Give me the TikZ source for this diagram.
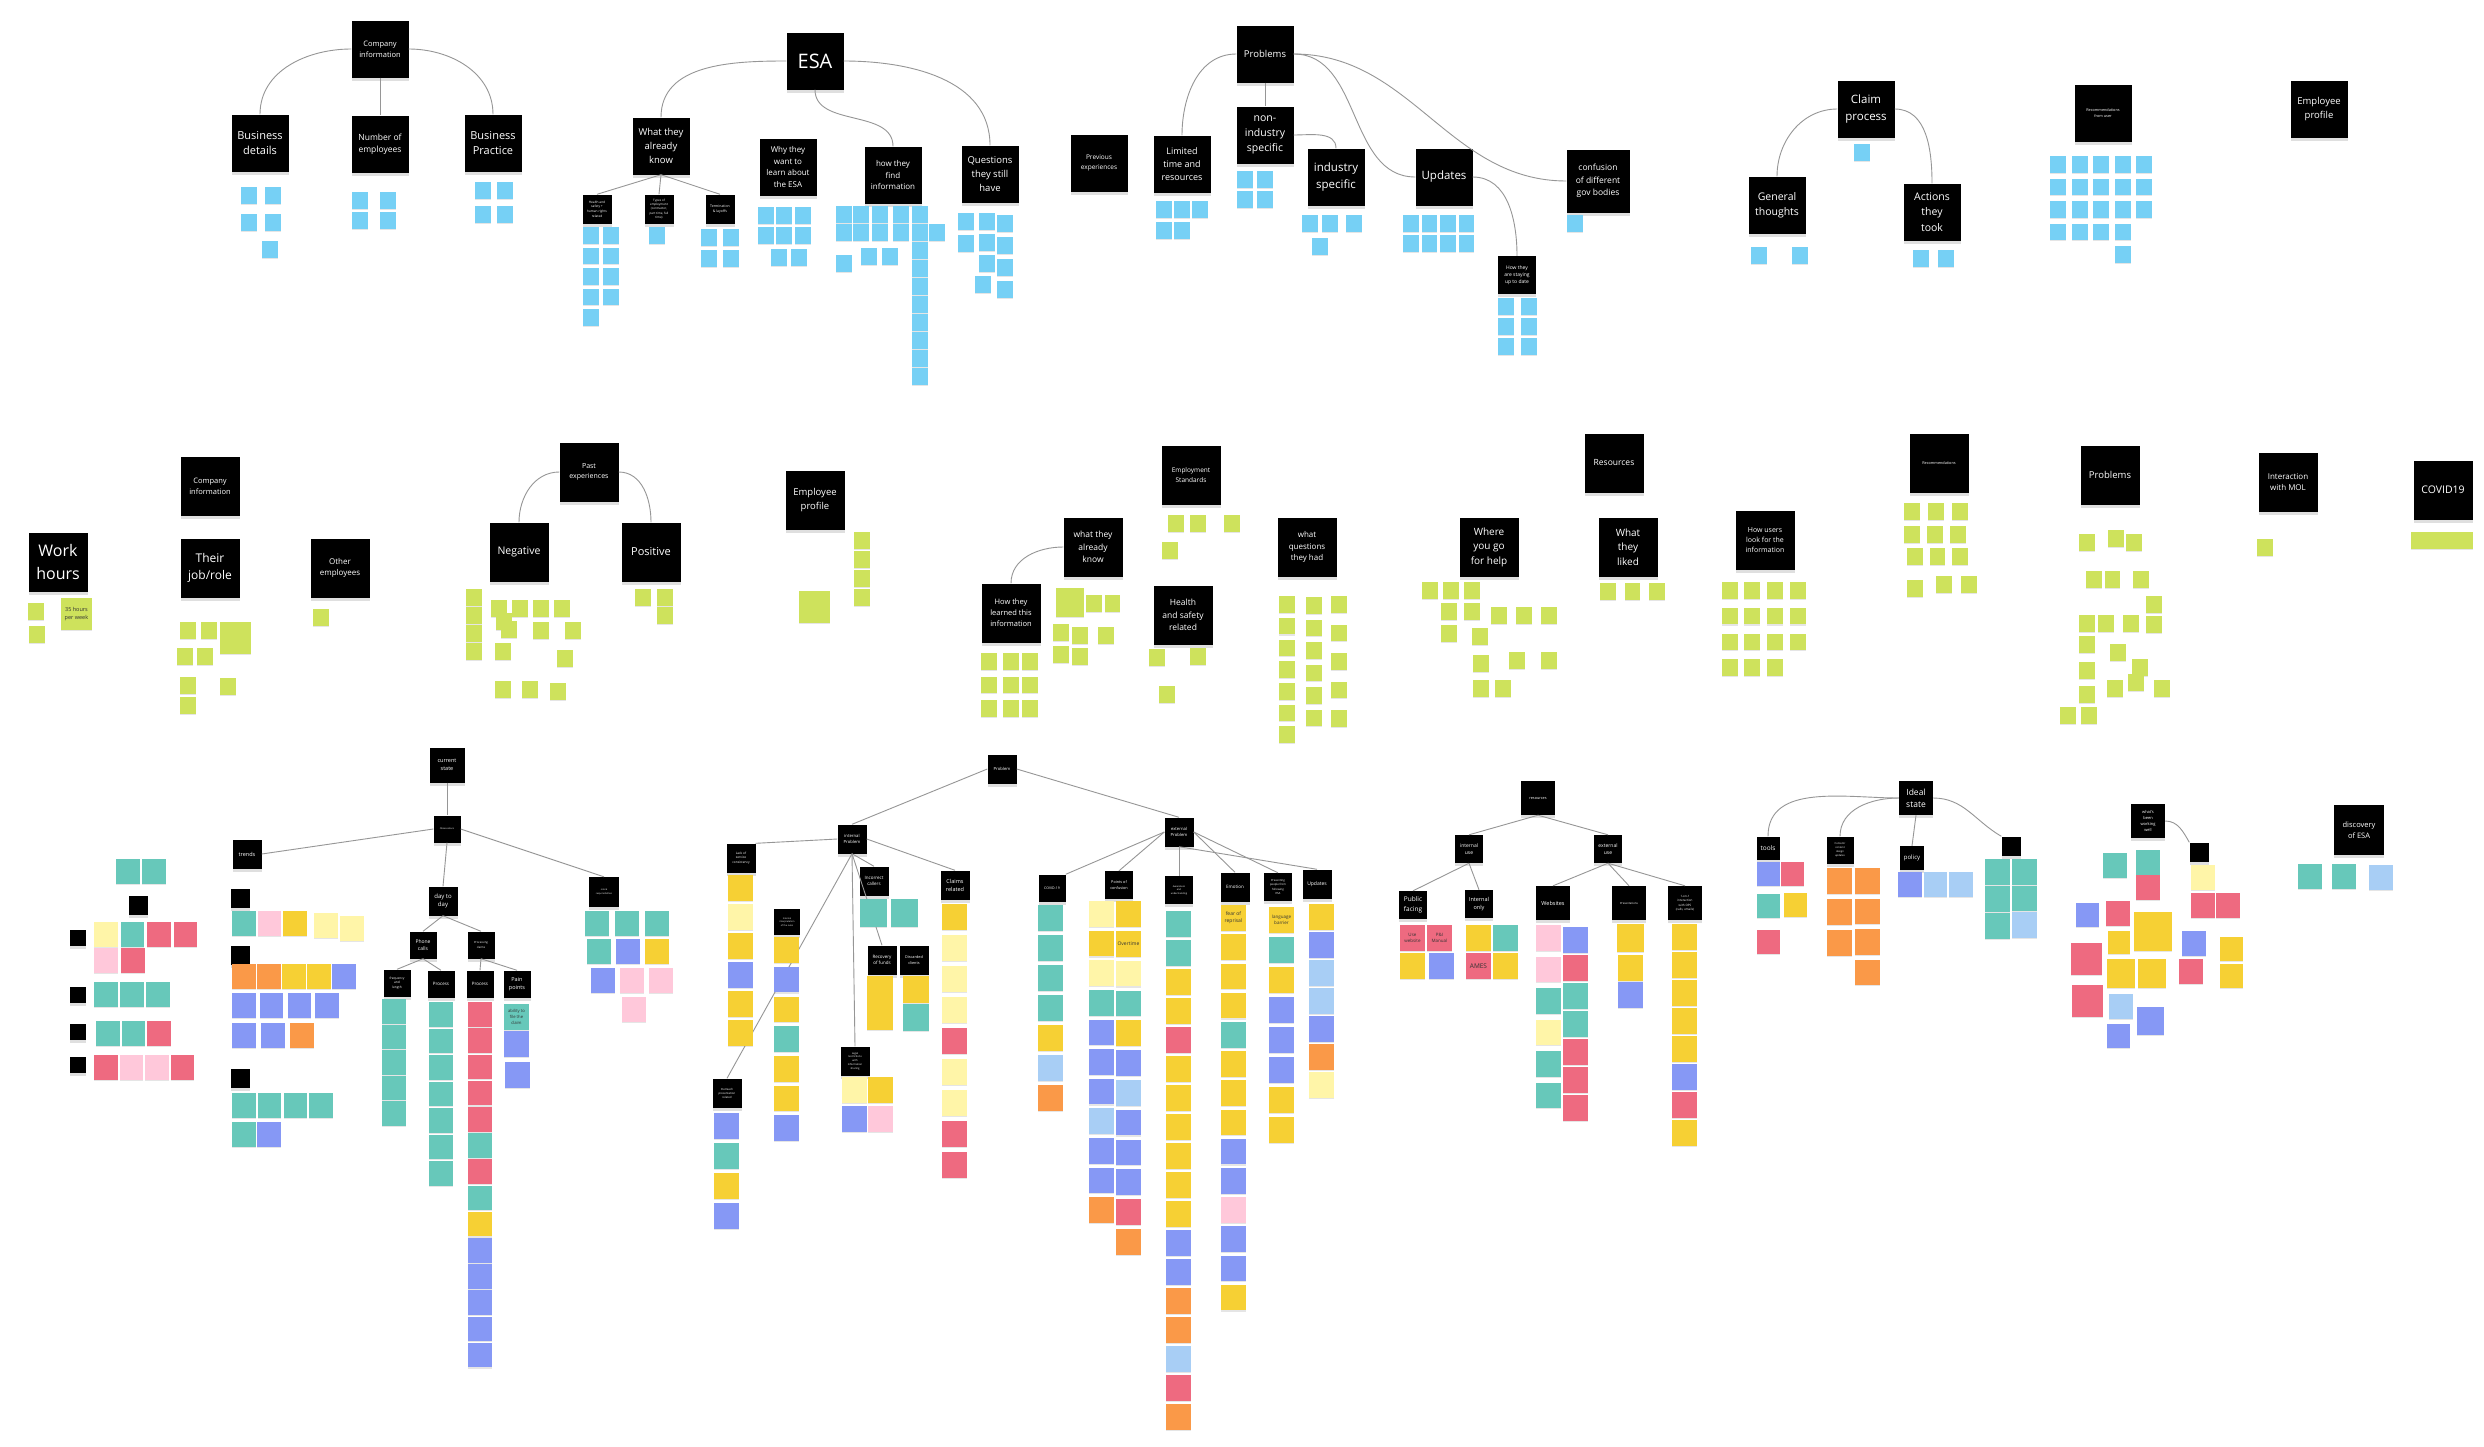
\documentclass[tikz,border=0pt]{standalone}
\usepackage{fontspec}
\setmainfont{Open Sans}
\usetikzlibrary{positioning, shadows}
\definecolor{nblue}{RGB}{118,208,245}
\definecolor{nlime}{RGB}{206,226,92}
\definecolor{nteal}{RGB}{103,200,186}
\definecolor{nred}{RGB}{238,106,128}
\definecolor{npink}{RGB}{255,200,218}
\definecolor{nyel}{RGB}{246,208,52}
\definecolor{npale}{RGB}{255,245,168}
\definecolor{norg}{RGB}{250,153,72}
\definecolor{nviol}{RGB}{134,152,245}
\definecolor{nlblue}{RGB}{168,206,245}
\definecolor{linegray}{RGB}{150,150,150}
\newcommand{\hfs}[1]{\fontsize{#1}{\fpeval{#1*1.45}}\selectfont}
\tikzset{
    hdr/.style={rectangle, fill=black, text=white, minimum width=#1, minimum height=#1,
        inner sep=1pt, align=center, drop shadow={shadow xshift=0pt, shadow yshift=-3pt, opacity=0.25}},
    hdr/.default=57pt,
    fs/.style={font=\hfs{#1}},
    note/.style={rectangle, minimum width=#1-1.5pt, minimum height=#1-0.5pt, inner sep=0.5pt, anchor=north west,
        align=center, text=black!80, drop shadow={shadow xshift=0pt, shadow yshift=-1.2pt, opacity=0.2}},
    note/.default=17pt,
    ntext/.style={align=center, text=black!80, inner sep=0pt},
    conn/.style={draw=linegray, line width=0.9pt}
}
\newcommand{\stickcol}[6]{%
    \foreach \c [count=\k] in {#6}{%
        \node[note=#1, fill=\c] (#2\k) at ({#3},{-(#4)-(\k-1)*(#5)}) {};
    }}
\newcommand{\stickrow}[6]{%
    \foreach \c [count=\k] in {#6}{%
        \node[note=#1, fill=\c] (#2\k) at ({#3+(\k-1)*(#5)},{-(#4)}) {};
    }}
\newcommand{\stick}[5]{\node[note=#1, fill=#5] (#2) at (#3,-#4) {};}

\begin{document}
\begin{tikzpicture}[x=1pt, y=1pt]

    \fill[white] (0,0) rectangle (2484,-1446);
    \useasboundingbox (0,0) rectangle (2484,-1446);

    % ---------- top row ----------
    \node[hdr, fs=7.5] (ci) at (380,-49) {Company\\information};
    \node[hdr, fs=11] (bdet) at (260,-143) {Business\\details};
    \node[hdr, fs=8.5] (nemp) at (380,-144) {Number of\\employees};
    \node[hdr, fs=11] (bprac) at (493,-143) {Business\\Practice};
    \node[hdr, fs=20] (esa) at (815,-61) {ESA};
    \node[hdr, fs=9.5] (wak) at (661,-146) {What they\\already\\know};
    \node[hdr, fs=8] (whyl) at (788,-167) {Why they\\want to\\learn about\\the ESA};
    \node[hdr, fs=8] (hfind) at (893,-175) {how they\\find\\information};
    \node[hdr, fs=9.5] (qhave) at (990,-174) {Questions\\they still\\have};
    \node[hdr=29pt, fs=3.2] (hsr) at (597,-209) {Health and\\safety +\\human rights\\related};
    \node[hdr=29pt, fs=3] (temp) at (659,-209) {Types of\\employment\\(contractor,\\part time, full\\time)};
    \node[hdr=29pt, fs=3.5] (term) at (720,-209) {Termination\\\& layoffs};

    \node[hdr, fs=9.5] (prob) at (1265,-54) {Problems};
    \node[hdr, fs=6.5] (prev) at (1099,-163) {Previous\\experiences};
    \node[hdr, fs=9] (ltime) at (1182,-164) {Limited\\time and\\resources};
    \node[hdr, fs=10.5] (nonind) at (1265,-135) {non-\\industry\\specific};
    \node[hdr, fs=11.5] (ind) at (1336,-177) {industry\\specific};
    \node[hdr, fs=11.5] (upd) at (1444,-177) {Updates};
    \node[hdr=63pt, fs=8.5] (conf) at (1598,-181) {confusion\\of different\\gov bodies};
    \node[hdr=38pt, fs=5] (stay) at (1517,-275) {How they\\are staying\\up to date};

    \node[hdr, fs=11.5] (claim) at (1866,-109) {Claim\\process};
    \node[hdr, fs=10.5] (gen) at (1777,-205) {General\\thoughts};
    \node[hdr, fs=10.5] (act) at (1932,-212) {Actions\\they\\took};
    \node[hdr, fs=3.8] (recu) at (2103,-113) {Recommendations\\from user};
    \node[hdr, fs=9.5] (eprof) at (2319,-109) {Employee\\profile};

    \draw[conn] (ci.west) to[out=180, in=90] (bdet.north);
    \draw[conn] (ci.south) -- (nemp.north);
    \draw[conn] (ci.east) to[out=0, in=90] (bprac.north);
    \draw[conn] (esa.west) to[out=180, in=90] (wak.north);
    \draw[conn] (esa.east) to[out=0, in=90] (qhave.north);
    \draw[conn] (esa.south) to[out=-90, in=90] (hfind.north);
    \draw[conn] (wak.south) -- (hsr.north);
    \draw[conn] (wak.south) -- (temp.north);
    \draw[conn] (wak.south) -- (term.north);
    \draw[conn] (prob.west) to[out=180, in=90] (ltime.north);
    \draw[conn] (prob.south) -- (nonind.north);
    \draw[conn] (nonind.east) to[out=0, in=90] (ind.north);
    \draw[conn] (prob.east) to[out=0, in=180] (upd.west);
    \draw[conn] (prob.east) to[out=0, in=180] (conf.west);
    \draw[conn] (upd.east) to[out=0, in=90] (stay.north);
    \draw[conn] (claim.west) to[out=180, in=90] (gen.north);
    \draw[conn] (claim.east) to[out=0, in=90] (act.north);

    \stickcol{17pt}{bda}{241}{187}{27}{nblue,nblue}
    \stickcol{17pt}{bdb}{265}{187}{27}{nblue,nblue}
    \stick{17pt}{bdc}{262}{241}{nblue}
    \stickcol{17pt}{nea}{352}{192}{20}{nblue,nblue}
    \stickcol{17pt}{neb}{380}{192}{20}{nblue,nblue}
    \stickcol{17pt}{bpa}{475}{182}{24}{nblue,nblue}
    \stickcol{17pt}{bpb}{497}{182}{24}{nblue,nblue}
    \stickcol{17pt}{hsa}{583}{227}{20.5}{nblue,nblue,nblue,nblue,nblue}
    \stickcol{17pt}{hsb}{603}{227}{20.5}{nblue,nblue,nblue,nblue}
    \stick{17pt}{tya}{649}{227}{nblue}
    \stickcol{17pt}{tla}{701}{229}{21}{nblue,nblue}
    \stickcol{17pt}{tlb}{723}{229}{21}{nblue,nblue}
    \stickcol{17pt}{wla}{758}{207}{20}{nblue,nblue}
    \stickcol{17pt}{wlb}{776}{207}{20}{nblue,nblue}
    \stickcol{17pt}{wlc}{795}{207}{20}{nblue,nblue}
    \stick{17pt}{wld}{771}{249}{nblue}
    \stick{17pt}{wle}{791}{249}{nblue}
    \stickcol{17pt}{hfa}{836}{206}{18}{nblue,nblue}
    \stickcol{17pt}{hfb}{853}{206}{18}{nblue,nblue}
    \stickcol{17pt}{hfc}{872}{206}{18}{nblue,nblue}
    \stickcol{17pt}{hfd}{893}{206}{18}{nblue,nblue}
    \stickcol{17pt}{hfe}{912}{206}{18}{nblue,nblue,nblue,nblue,nblue,nblue,nblue,nblue,nblue,nblue}
    \stick{17pt}{hff}{836}{255}{nblue}
    \stick{17pt}{hfg}{861}{248}{nblue}
    \stick{17pt}{hfh}{882}{248}{nblue}
    \stick{17pt}{hfi}{929}{224}{nblue}
    \stickcol{17pt}{qha}{958}{213}{22}{nblue,nblue}
    \stickcol{17pt}{qhb}{979}{213}{21}{nblue,nblue,nblue}
    \stickcol{17pt}{qhc}{997}{215}{22}{nblue,nblue,nblue,nblue}
    \stick{17pt}{qhd}{975}{276}{nblue}

    \stickcol{17pt}{lta}{1156}{201}{21}{nblue,nblue}
    \stickcol{17pt}{ltb}{1174}{201}{21}{nblue,nblue}
    \stick{17pt}{ltc}{1192}{201}{nblue}
    \stickcol{17pt}{nia}{1237}{171}{20}{nblue,nblue}
    \stickcol{17pt}{nib}{1257}{171}{20}{nblue,nblue}
    \stickrow{17pt}{isa}{1302}{215}{20}{nblue,nblue}
    \stick{17pt}{isb}{1346}{215}{nblue}
    \stick{17pt}{isc}{1312}{238}{nblue}
    \stickrow{17pt}{upa}{1403}{215}{18.5}{nblue,nblue,nblue,nblue}
    \stickrow{17pt}{upb}{1403}{235}{18.5}{nblue,nblue,nblue,nblue}
    \stick{17pt}{cfa}{1567}{215}{nblue}
    \stickcol{17pt}{sta}{1498}{298}{20}{nblue,nblue,nblue}
    \stickcol{17pt}{stb}{1521}{298}{20}{nblue,nblue,nblue}
    \stick{17pt}{cpa}{1854}{144}{nblue}
    \stick{17pt}{gta}{1751}{247}{nblue}
    \stick{17pt}{gtb}{1792}{247}{nblue}
    \stick{17pt}{ata}{1913}{250}{nblue}
    \stick{17pt}{atb}{1938}{250}{nblue}
    \stickcol{17pt}{rua}{2050}{156}{22.5}{nblue,nblue,nblue,nblue}
    \stickcol{17pt}{rub}{2072}{156}{22.5}{nblue,nblue,nblue,nblue}
    \stickcol{17pt}{ruc}{2093}{156}{22.5}{nblue,nblue,nblue,nblue}
    \stickcol{17pt}{rud}{2115}{156}{22.5}{nblue,nblue,nblue,nblue,nblue}
    \stickcol{17pt}{rue}{2136}{156}{22.5}{nblue,nblue,nblue}

    % ---------- middle row ----------
    \node[hdr=59pt, fs=7.5] (ci2) at (210,-486) {Company\\information};
    \node[hdr=59pt, fs=16] (work) at (58,-562) {Work\\hours};
    \node[hdr=59pt, fs=12] (job) at (210,-568) {Their\\job/role};
    \node[hdr=59pt, fs=8] (other) at (340,-568) {Other\\employees};
    \node[hdr=59pt, fs=7] (past) at (589,-472) {Past\\experiences};
    \node[hdr=59pt, fs=10.5] (neg) at (519,-552) {Negative};
    \node[hdr=59pt, fs=11] (pos) at (651,-552) {Positive};
    \node[hdr=59pt, fs=9.5] (eprof2) at (815,-500) {Employee\\profile};
    \node[hdr=59pt, fs=6.5] (estd) at (1191,-475) {Employment\\Standards};
    \node[hdr=59pt, fs=8.5] (wak2) at (1093,-547) {what they\\already\\know};
    \node[hdr=59pt, fs=7.5] (learn) at (1011,-613) {How they\\learned this\\information};
    \node[hdr=59pt, fs=8.5] (hs2) at (1183,-615) {Health\\and safety\\related};
    \node[hdr=59pt, fs=8] (wq) at (1307,-547) {what\\questions\\they had};
    \node[hdr=59pt, fs=10] (where) at (1489,-547) {Where\\you go\\for help};
    \node[hdr=59pt, fs=8.5] (res) at (1614,-463) {Resources};
    \node[hdr=59pt, fs=10] (liked) at (1628,-547) {What\\they\\liked};
    \node[hdr=59pt, fs=7] (users) at (1765,-540) {How users\\look for the\\information};
    \node[hdr=59pt, fs=3.8] (rec2) at (1939,-463) {Recommendations};
    \node[hdr=59pt, fs=9.5] (prob2) at (2110,-475) {Problems};
    \node[hdr=59pt, fs=8] (mol) at (2288,-482) {Interaction\\with MOL};
    \node[hdr=59pt, fs=10.5] (covid) at (2443,-490) {COVID19};

    \draw[conn] (past.west) to[out=180, in=90] (neg.north);
    \draw[conn] (past.east) to[out=0, in=90] (pos.north);
    \draw[conn] (wak2.west) to[out=180, in=90] (learn.north);

    \stick{17pt}{wha}{28}{603}{nlime}
    \stick{17pt}{whb}{29}{626}{nlime}
    \node[note=32pt, fill=nlime, fs=5.5] (whc) at (61,-598) {35 hours\\per week};
    \stickrow{17pt}{jra}{180}{622}{21}{nlime,nlime}
    \node[note=32pt, fill=nlime] (jrb) at (220,-622) {};
    \stickrow{17pt}{jrc}{177}{648}{20}{nlime,nlime}
    \stickcol{17pt}{jrd}{180}{677}{20}{nlime,nlime}
    \stick{17pt}{jre}{220}{678}{nlime}
    \stick{17pt}{oea}{313}{609}{nlime}
    \stickcol{17pt}{nga}{466}{589}{18}{nlime,nlime,nlime,nlime}
    \stickrow{17pt}{ngb}{491}{600}{21}{nlime,nlime,nlime,nlime}
    \stick{17pt}{ngc}{496}{613}{nlime}
    \stick{17pt}{ngd}{501}{621}{nlime}
    \stick{17pt}{nge}{533}{622}{nlime}
    \stick{17pt}{ngf}{565}{622}{nlime}
    \stick{17pt}{ngg}{495}{643}{nlime}
    \stick{17pt}{ngh}{557}{650}{nlime}
    \stickrow{17pt}{ngi}{495}{681}{27}{nlime,nlime}
    \stick{17pt}{ngj}{550}{683}{nlime}
    \stickrow{17pt}{psa}{635}{589}{22}{nlime,nlime}
    \stick{17pt}{psb}{657}{607}{nlime}
    \node[note=32pt, fill=nlime] (epa) at (799,-591) {};
    \stickcol{17pt}{epb}{854}{532}{19}{nlime,nlime,nlime,nlime}
    \stickrow{17pt}{esa}{1168}{515}{22}{nlime,nlime}
    \stick{17pt}{esb}{1224}{515}{nlime}
    \stick{17pt}{esc}{1162}{542}{nlime}
    \node[note=29pt, fill=nlime] (kna) at (1056,-588) {};
    \stickrow{17pt}{knb}{1086}{595}{18.5}{nlime,nlime}
    \stick{17pt}{knc}{1053}{624}{nlime}
    \stick{17pt}{knd}{1072}{627}{nlime}
    \stick{17pt}{kne}{1098}{627}{nlime}
    \stick{17pt}{knf}{1053}{646}{nlime}
    \stick{17pt}{kng}{1072}{648}{nlime}
    \stickcol{17pt}{lra}{981}{653}{23.5}{nlime,nlime,nlime}
    \stickcol{17pt}{lrb}{1003}{653}{23.5}{nlime,nlime,nlime}
    \stickcol{17pt}{lrc}{1022}{653}{23.5}{nlime,nlime,nlime}
    \stick{17pt}{hsc}{1149}{649}{nlime}
    \stick{17pt}{hsd}{1190}{648}{nlime}
    \stick{17pt}{hse}{1159}{686}{nlime}
    \stickcol{17pt}{wqa}{1279}{596}{21.7}{nlime,nlime,nlime,nlime,nlime,nlime,nlime}
    \stickcol{17pt}{wqb}{1306}{597}{22.5}{nlime,nlime,nlime,nlime,nlime,nlime}
    \stickcol{17pt}{wqc}{1331}{596}{28.5}{nlime,nlime,nlime,nlime,nlime}
    \stickrow{17pt}{wya}{1422}{582}{21}{nlime,nlime,nlime}
    \stickrow{17pt}{wyb}{1441}{603}{23}{nlime,nlime}
    \stickrow{17pt}{wyc}{1491}{607}{25}{nlime,nlime,nlime}
    \stick{17pt}{wyd}{1441}{625}{nlime}
    \stick{17pt}{wye}{1472}{628}{nlime}
    \stick{17pt}{wyf}{1473}{655}{nlime}
    \stick{17pt}{wyg}{1509}{652}{nlime}
    \stick{17pt}{wyh}{1541}{652}{nlime}
    \stickrow{17pt}{wyi}{1473}{680}{22}{nlime,nlime}
    \stickrow{17pt}{lka}{1600}{583}{24.5}{nlime,nlime,nlime}
    \stickcol{17pt}{ula}{1722}{582}{25.7}{nlime,nlime,nlime,nlime}
    \stickcol{17pt}{ulb}{1744}{582}{25.7}{nlime,nlime,nlime,nlime}
    \stickcol{17pt}{ulc}{1767}{582}{25.7}{nlime,nlime,nlime,nlime}
    \stickcol{17pt}{uld}{1790}{582}{25.7}{nlime,nlime,nlime}
    \stickrow{17pt}{rca}{1904}{503}{24}{nlime,nlime,nlime}
    \stickrow{17pt}{rcb}{1904}{526}{23}{nlime,nlime,nlime}
    \stickrow{17pt}{rcc}{1907}{548}{22.5}{nlime,nlime,nlime}
    \stick{17pt}{rcd}{1907}{580}{nlime}
    \stickrow{17pt}{rce}{1936}{576}{25}{nlime,nlime}
    \stick{17pt}{pba}{2079}{534}{nlime}
    \stick{17pt}{pbb}{2108}{530}{nlime}
    \stick{17pt}{pbc}{2126}{534}{nlime}
    \stickrow{17pt}{pbd}{2086}{571}{18.5}{nlime,nlime}
    \stick{17pt}{pbe}{2133}{571}{nlime}
    \stick{17pt}{pbf}{2146}{596}{nlime}
    \stickrow{17pt}{pbg}{2079}{615}{19}{nlime,nlime}
    \stick{17pt}{pbh}{2123}{615}{nlime}
    \stick{17pt}{pbi}{2146}{616}{nlime}
    \stick{17pt}{pbj}{2079}{636}{nlime}
    \stick{17pt}{pbk}{2110}{644}{nlime}
    \stick{17pt}{pbl}{2079}{662}{nlime}
    \stick{17pt}{pbm}{2132}{659}{nlime}
    \stick{17pt}{pbn}{2079}{686}{nlime}
    \stick{17pt}{pbo}{2107}{680}{nlime}
    \stick{17pt}{pbp}{2128}{674}{nlime}
    \stick{17pt}{pbq}{2154}{680}{nlime}
    \stickrow{17pt}{pbr}{2060}{707}{21}{nlime,nlime}
    \stick{17pt}{mla}{2257}{539}{nlime}
    \stickrow{17pt}{cva}{2411}{532}{15.5}{nlime,nlime,nlime,nlime}

    % ---------- bottom: current state ----------
    \node[hdr=35pt, fs=5.5] (cur) at (447,-765) {current\\state};
    \node[hdr=27pt, fs=2.3] (obs) at (447,-829) {Observations};
    \node[hdr=29pt, fs=5.5] (trends) at (247,-854) {trends};
    \node[hdr=29pt, fs=6] (dtd) at (443,-901) {day to\\day};
    \node[hdr=30pt, fs=2.3] (role) at (604,-892) {role \&\\responsibilities};
    \node[hdr=27pt, fs=5] (phone) at (423,-945) {Phone\\calls};
    \node[hdr=27pt, fs=2.8] (procc) at (481,-945) {Processing\\claims};
    \node[hdr=27pt, fs=3.2] (freq) at (397,-983) {frequency\\and\\length};
    \node[hdr=27pt, fs=4.5] (pra) at (441,-984) {Process};
    \node[hdr=27pt, fs=4.5] (prb) at (480,-984) {Process};
    \node[hdr=27pt, fs=5.5] (pain) at (517,-984) {Pain\\points};
    \node[hdr=19pt] (bsa) at (138,-905) {};
    \node[hdr=16pt] (bsb) at (78,-938) {};
    \node[hdr=16pt] (bsc) at (78,-995) {};
    \node[hdr=16pt] (bsd) at (78,-1032) {};
    \node[hdr=16pt] (bse) at (78,-1065) {};
    \node[hdr=19pt] (bsf) at (240,-898) {};
    \node[hdr=19pt] (bsg) at (240,-955) {};
    \node[hdr=19pt] (bsh) at (240,-1078) {};

    \draw[conn] (cur.south) -- (obs.north);
    \draw[conn] (obs.west) -- (trends.east);
    \draw[conn] (obs.south) -- (dtd.north);
    \draw[conn] (obs.east) -- (role.north);
    \draw[conn] (dtd.south) -- (phone.north);
    \draw[conn] (dtd.south) -- (procc.north);
    \draw[conn] (phone.south) -- (freq.north);
    \draw[conn] (phone.south) -- (pra.north);
    \draw[conn] (procc.south) -- (prb.north);
    \draw[conn] (procc.south) -- (pain.north);

    \stickrow{25pt}{lga}{116}{859}{26}{nteal,nteal}
    \stickrow{25pt}{lgb}{94}{922}{26.5}{npale,nteal,nred,nred}
    \stickrow{25pt}{lgc}{94}{948}{27}{npink,nred}
    \stickrow{25pt}{lgd}{94}{982}{26}{nteal,nteal,nteal}
    \stickrow{25pt}{lge}{96}{1021}{25.5}{nteal,nteal,nred}
    \stickrow{25pt}{lgf}{94}{1055}{25.5}{nred,npink,npink,nred}
    \stickrow{25pt}{tda}{232}{911}{25.5}{nteal,npink,nyel}
    \stick{25pt}{tdb}{314}{913}{npale}
    \stick{25pt}{tdc}{340}{916}{npale}
    \stickrow{25pt}{tdd}{232}{964}{25}{norg,norg,nyel,nyel,nviol}
    \stickrow{25pt}{tde}{232}{993}{27.7}{nviol,nviol,nviol,nviol}
    \stickrow{25pt}{tdf}{232}{1023}{29}{nviol,nviol,norg}
    \stickrow{25pt}{tdg}{232}{1093}{25.7}{nteal,nteal,nteal,nteal}
    \stickrow{25pt}{tdh}{232}{1122}{25}{nteal,nviol}
    \stickcol{25pt}{fqa}{382}{999}{25.5}{nteal,nteal,nteal,nteal,nteal}
    \stickcol{25pt}{ppa}{429}{1002}{26.5}{nteal,nteal,nteal,nteal,nteal,nteal,nteal}
    \stickcol{25pt}{ppb}{468}{1002}{26.2}{nred,nred,nred,nred,nred,nteal,nred,nteal,nyel,nviol,nviol,nviol,nviol,nviol}
    \node[note=26pt, fill=nteal, fs=4.2] (pta) at (504,-1004) {ability to\\file the\\claim};
    \stick{26pt}{ptb}{504}{1031}{nviol}
    \stick{26pt}{ptc}{505}{1062}{nviol}
    \stickrow{25pt}{rra}{585}{911}{30}{nteal,nteal,nteal}
    \stickrow{25pt}{rrb}{587}{939}{29}{nteal,nviol,nyel}
    \stickrow{25pt}{rrc}{591}{968}{29}{nviol,npink,npink}
    \stick{25pt}{rrd}{622}{997}{npink}

    % ---------- bottom: problem ----------
    \node[hdr=29pt, fs=4.2] (probl) at (1002,-769) {Problem};
    \node[hdr=29pt, fs=4.2] (intp) at (852,-839) {internal\\Problem};
    \node[hdr=29pt, fs=4.2] (extp) at (1179,-832) {external\\Problem};
    \node[hdr=29pt, fs=3.2] (lack) at (741,-858) {Lack of\\service\\consistency};
    \node[hdr=26pt, fs=2.3] (interp) at (787,-922) {Internal\\interpretation\\of the rules};
    \node[hdr=29pt, fs=4.5] (incor) at (874,-881) {Incorrect\\callers};
    \node[hdr=29pt, fs=5.5] (claims) at (955,-885) {Claims\\related};
    \node[hdr=29pt, fs=4.5] (recov) at (882,-960) {Recovery\\of funds};
    \node[hdr=29pt, fs=3.8] (disc) at (914,-960) {Discarded\\clients};
    \node[hdr=29pt, fs=2.6] (legal) at (855,-1061) {Legal\\restrictions\\with\\information\\sharing};
    \node[hdr=29pt, fs=2.8] (outr) at (727,-1093) {Outreach\\presentation\\related};
    \node[hdr=27pt, fs=3.5] (cov) at (1052,-888) {COVID-19};
    \node[hdr=28pt, fs=3.8] (poc) at (1119,-885) {Points of\\confusion};
    \node[hdr=28pt, fs=2.4] (aware) at (1179,-890) {Awareness\\and\\understanding};
    \node[hdr=29pt, fs=4.5] (emo) at (1235,-887) {Emotion};
    \node[hdr=28pt, fs=2.8] (prevent) at (1278,-887) {Preventing\\people from\\following\\ESA};
    \node[hdr=29pt, fs=5] (updb) at (1317,-884) {Updates};

    \draw[conn] (probl.west) -- (intp.north);
    \draw[conn] (probl.east) -- (extp.north);
    \draw[conn] (intp.west) -- (lack.north east);
    \draw[conn] (intp.east) -- (claims.north);
    \draw[conn] (intp.south) -- (incor.north);
    \draw[conn] (intp.south) -- (recov.north);
    \draw[conn] (intp.south) -- (legal.north);
    \draw[conn] (intp.south) -- (outr.north);
    \draw[conn] (extp.west) -- (cov.north east);
    \draw[conn] (extp.west) -- (poc.north);
    \draw[conn] (extp.south) -- (aware.north);
    \draw[conn] (extp.south) -- (updb.north);
    \draw[conn] (extp.east) -- (emo.north);
    \draw[conn] (extp.east) -- (prevent.north);

    \stickcol{26pt}{lsa}{728}{875}{29}{nyel,npale,nyel,nviol,nyel,nyel}
    \stickcol{26pt}{ora}{714}{1113}{30}{nviol,nteal,nyel,nviol}
    \stickcol{26pt}{ira}{774}{937}{29.7}{nyel,nviol,nyel,nteal,nyel,nyel,nviol}
    \stickrow{28pt}{ica}{860}{899}{31}{nteal,nteal}
    \stickcol{27pt}{rfa}{867}{976}{27}{nyel,nyel}
    \stickcol{27pt}{dca}{903}{976}{28}{nyel,nteal}
    \stickrow{26pt}{lra}{842}{1077}{26}{npale,nyel}
    \stickrow{26pt}{lrb}{842}{1106}{26}{nviol,npink}
    \stickcol{26pt}{cra}{942}{904}{31}{nyel,npale,npale,npale,nred,npale,npale,nred,nred}
    \stickcol{26pt}{cvb}{1038}{905}{30}{nteal,nteal,nteal,nteal,nyel,nlblue,norg}
    \stickcol{26pt}{pca}{1089}{901}{29.6}{npale,nyel,npale,nteal,nviol,nviol,nviol,nlblue,nviol,nviol,norg}
    \stickcol{26pt}{pcb}{1116}{901}{29.8}{nyel,nyel,npale,nteal,nyel,nviol,nlblue,nviol,nviol,nviol,nred,norg}
    \node[ntext, fs=5] (pcbt) at (pcb2.center) {Overtime};
    \stickcol{26pt}{awa}{1166}{911}{29}{nteal,nteal,nyel,nyel,nred,nyel,nyel,nyel,nyel,nyel,nyel,nviol,nviol,norg,norg,nlblue,nred,norg}
    \stickcol{26pt}{ema}{1221}{905}{29.2}{nyel,nyel,nyel,nyel,nteal,nyel,nyel,nyel,nviol,nviol,npink,nviol,nviol,nyel}
    \node[ntext, fs=5] (emat) at (ema1.center) {fear of\\reprisal};
    \stickcol{26pt}{pva}{1269}{907}{30}{nyel,nteal,nyel,nviol,nviol,nviol,nyel,nyel}
    \node[ntext, fs=4.5] (pvat) at (pva1.center) {language\\barrier};
    \stickcol{26pt}{uda}{1309}{904}{28}{nyel,nviol,nlblue,nlblue,nviol,norg,npale}

    % ---------- bottom: resources ----------
    \node[hdr=34pt, fs=3.8] (resb) at (1538,-798) {resources};
    \node[hdr=28pt, fs=5] (intu) at (1469,-849) {internal\\use};
    \node[hdr=28pt, fs=5] (extu) at (1608,-849) {external\\use};
    \node[hdr=28pt, fs=6.5] (pub) at (1413,-905) {Public\\facing};
    \node[hdr=28pt, fs=5.5] (intonly) at (1479,-904) {Internal\\only};
    \node[hdr=34pt, fs=5.5] (web) at (1553,-903) {Websites};
    \node[hdr=34pt, fs=2.8] (pres) at (1629,-903) {Presentations};
    \node[hdr=34pt, fs=3] (one) at (1685,-903) {1-on-1\\interaction\\with OPS\\(calls, emails)};

    \draw[conn] (resb.south) -- (intu.north);
    \draw[conn] (resb.south) -- (extu.north);
    \draw[conn] (intu.south) -- (pub.north);
    \draw[conn] (intu.south) -- (intonly.north);
    \draw[conn] (extu.south) -- (web.north);
    \draw[conn] (extu.south) -- (pres.north);
    \draw[conn] (extu.south) -- (one.north);

    \node[note=26pt, fill=nred, fs=4.5] (pfa) at (1400,-925) {Use\\website};
    \node[note=26pt, fill=nred, fs=4.5] (pfb) at (1427,-925) {P\&I\\Manual};
    \stick{26pt}{pfc}{1400}{953}{nyel}
    \stick{26pt}{pfd}{1429}{953}{nviol}
    \stick{26pt}{ioa}{1466}{925}{nyel}
    \stick{26pt}{iob}{1493}{925}{nteal}
    \node[note=26pt, fill=nred, fs=6.5] (ioc) at (1466,-953) {AMES};
    \stick{26pt}{iod}{1493}{953}{nyel}
    \stickcol{26pt}{wba}{1536}{925}{31.5}{npink,npink,nteal,npale,nteal,nteal}
    \stickcol{26pt}{wbb}{1563}{927}{28}{nviol,nred,nteal,nteal,nred,nred,nred}
    \stick{28pt}{pra}{1617}{924}{nyel}
    \stickcol{26pt}{prc}{1618}{955}{27}{nyel,nviol}
    \stickcol{26pt}{ona}{1672}{924}{28}{nyel,nyel,nyel,nyel,nyel,nviol,nred,nyel}

    % ---------- bottom: ideal state ----------
    \node[hdr=34pt, fs=8.5] (ideal) at (1916,-798) {Ideal\\state};
    \node[hdr=23pt, fs=6.5] (tools) at (1768,-848) {tools};
    \node[hdr=27pt, fs=2.6] (cont) at (1840,-850) {Content/\\content\\design\\updates};
    \node[hdr=24pt, fs=6] (policy) at (1912,-858) {policy};
    \node[hdr=19pt] (isq) at (2011,-846) {};
    \node[hdr=34pt, fs=4] (wwell) at (2148,-821) {what's\\been\\working\\well};
    \node[hdr=19pt] (wsq) at (2199,-852) {};
    \node[hdr=50pt, fs=7.5] (disco) at (2359,-830) {discovery\\of ESA};

    \draw[conn] (ideal.west) to[out=180, in=90] (tools.north);
    \draw[conn] (ideal.west) to[out=180, in=90] (cont.north);
    \draw[conn] (ideal.south) -- (policy.north);
    \draw[conn] (ideal.east) to[out=0, in=150] (isq.north west);
    \draw[conn] (wwell.east) to[out=0, in=120] (wsq.north west);

    \stickrow{24pt}{tla}{1757}{862}{24}{nviol,nred}
    \stick{24pt}{tlb}{1757}{894}{nteal}
    \stick{24pt}{tlc}{1784}{893}{nyel}
    \stick{24pt}{tld}{1757}{930}{nred}
    \stickcol{26pt}{cta}{1827}{868}{31}{norg,norg,norg}
    \stickcol{26pt}{ctb}{1855}{868}{30.5}{norg,norg,norg,norg}
    \stickrow{25pt}{pla}{1898}{872}{25.5}{nviol,nlblue,nlblue}
    \stickcol{26pt}{sqa}{1985}{859}{27}{nteal,nteal,nteal}
    \stickcol{26pt}{sqb}{2012}{859}{26.5}{nteal,nteal,nlblue}
    \stick{25pt}{wwa}{2103}{853}{nteal}
    \stick{25pt}{wwb}{2136}{850}{nteal}
    \stick{25pt}{wwc}{2136}{875}{nred}
    \stick{24pt}{wwd}{2076}{903}{nviol}
    \stick{25pt}{wwe}{2106}{901}{nred}
    \stick{39pt}{wwf}{2134}{912}{nyel}
    \stick{23pt}{wwg}{2108}{931}{nyel}
    \stick{32pt}{wwh}{2071}{943}{nred}
    \stick{29pt}{wwi}{2107}{959}{nyel}
    \stick{29pt}{wwj}{2138}{959}{nyel}
    \stick{32pt}{wwk}{2072}{985}{nred}
    \stick{25pt}{wwl}{2109}{994}{nlblue}
    \stick{28pt}{wwm}{2137}{1007}{nviol}
    \stick{24pt}{wwn}{2107}{1024}{nviol}
    \stick{25pt}{wsa}{2191}{865}{npale}
    \stickrow{25pt}{wsb}{2191}{893}{25}{nred,nred}
    \stick{25pt}{wsc}{2182}{931}{nviol}
    \stick{25pt}{wsd}{2179}{959}{nred}
    \stickcol{24pt}{wse}{2220}{937}{27}{nyel,nyel}
    \stick{25pt}{dsa}{2298}{864}{nteal}
    \stick{25pt}{dsb}{2332}{864}{nteal}
    \stick{25pt}{dsc}{2369}{865}{nlblue}

\end{tikzpicture}
\end{document}
